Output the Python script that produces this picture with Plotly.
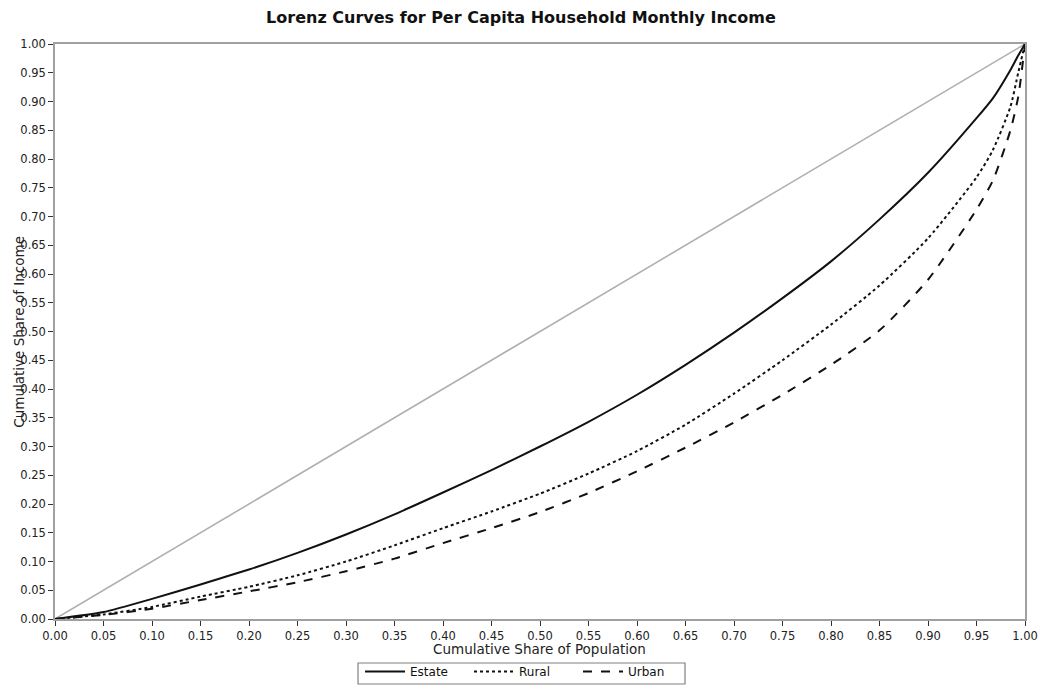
import plotly.graph_objects as go

# Cumulative share of population (x) and cumulative share of income (y)
pop_share = [0.0, 0.05, 0.10, 0.15, 0.20, 0.25, 0.30, 0.35, 0.40, 0.45, 0.50, 0.55, 0.60,
             0.65, 0.70, 0.75, 0.80, 0.85, 0.90, 0.95, 0.967, 0.985, 0.993, 1.0]

estate_y = [0.0, 0.012, 0.035, 0.060, 0.086, 0.115, 0.147, 0.182, 0.220, 0.259, 0.300, 0.343, 0.390,
            0.442, 0.498, 0.558, 0.622, 0.695, 0.776, 0.871, 0.906, 0.955, 0.980, 1.0]

rural_y = [0.0, 0.008, 0.021, 0.039, 0.056, 0.076, 0.100, 0.128, 0.158, 0.187, 0.218, 0.253, 0.292,
           0.338, 0.392, 0.450, 0.512, 0.580, 0.662, 0.768, 0.816, 0.891, 0.950, 1.0]

urban_y = [0.0, 0.007, 0.018, 0.033, 0.048, 0.064, 0.083, 0.105, 0.132, 0.158, 0.186, 0.219, 0.257,
           0.298, 0.342, 0.390, 0.442, 0.502, 0.590, 0.712, 0.763, 0.850, 0.908, 1.0]

equality_x = [0.0, 1.0]
equality_y = [0.0, 1.0]

tick_vals = [i / 20 for i in range(21)]
tick_text = [f"{v:.2f}" for v in tick_vals]

FONT = "DejaVu Sans"

fig = go.Figure()
fig.add_trace(go.Scatter(x=equality_x, y=equality_y, mode="lines",
                         line=dict(color="#b0b0b0", width=1.6), showlegend=False, hoverinfo="skip"))
fig.add_trace(go.Scatter(x=pop_share, y=estate_y, mode="lines", name="Estate",
                         line=dict(color="#111111", width=2, dash="solid", shape="spline", smoothing=0.6)))
fig.add_trace(go.Scatter(x=pop_share, y=rural_y, mode="lines", name="Rural",
                         line=dict(color="#111111", width=2, dash="dot", shape="spline", smoothing=0.6)))
fig.add_trace(go.Scatter(x=pop_share, y=urban_y, mode="lines", name="Urban",
                         line=dict(color="#111111", width=2, dash="dash", shape="spline", smoothing=0.6)))

axis_common = dict(
    range=[0, 1], tickvals=tick_vals, ticktext=tick_text, automargin=False,
    showgrid=False, zeroline=False, showline=True, linecolor="#a0a0a0", linewidth=1.5,
    mirror=True, ticks="outside", ticklen=5, tickcolor="#333333", tickwidth=1,
    tickfont=dict(family=FONT, size=11.5, color="#222222"),
)

fig.update_layout(
    width=1042, height=686,
    paper_bgcolor="white", plot_bgcolor="white",
    margin=dict(l=55, r=17, t=44, b=67, autoexpand=False),
    title=dict(text="<b>Lorenz Curves for Per Capita Household Monthly Income</b>",
               x=0.5, xanchor="center", y=0.974, yanchor="middle",
               font=dict(family=FONT, size=16, color="#111111")),
    xaxis=dict(**axis_common),
    yaxis=dict(**axis_common),
    legend=dict(orientation="h", x=0.483, xanchor="center", y=-0.066, yanchor="top",
                borderwidth=0, bgcolor="rgba(0,0,0,0)",
                font=dict(family=FONT, size=12, color="#111111"),
                entrywidth=54, entrywidthmode="pixels", itemwidth=40, tracegroupgap=0),
    shapes=[
        dict(type="rect", xref="paper", yref="paper", x0=0.3124, x1=0.6495, y0=-0.113, y1=-0.0765,
             line=dict(color="#808080", width=1.2), fillcolor="rgba(0,0,0,0)", layer="above"),
    ],
    annotations=[
        dict(text="Cumulative Share of Population", xref="paper", yref="paper",
             x=0.499, y=-0.052, xanchor="center", yanchor="middle", showarrow=False,
             font=dict(family=FONT, size=13.5, color="#222222")),
        dict(text="Cumulative Share of Income", xref="paper", yref="paper",
             x=-0.038, y=0.5, xanchor="center", yanchor="middle", textangle=-90, showarrow=False,
             font=dict(family=FONT, size=13.5, color="#222222")),
    ],
)

fig.write_html("out.html", config={"displayModeBar": False},
               post_script="document.body.style.margin='0';document.body.style.padding='0';")
